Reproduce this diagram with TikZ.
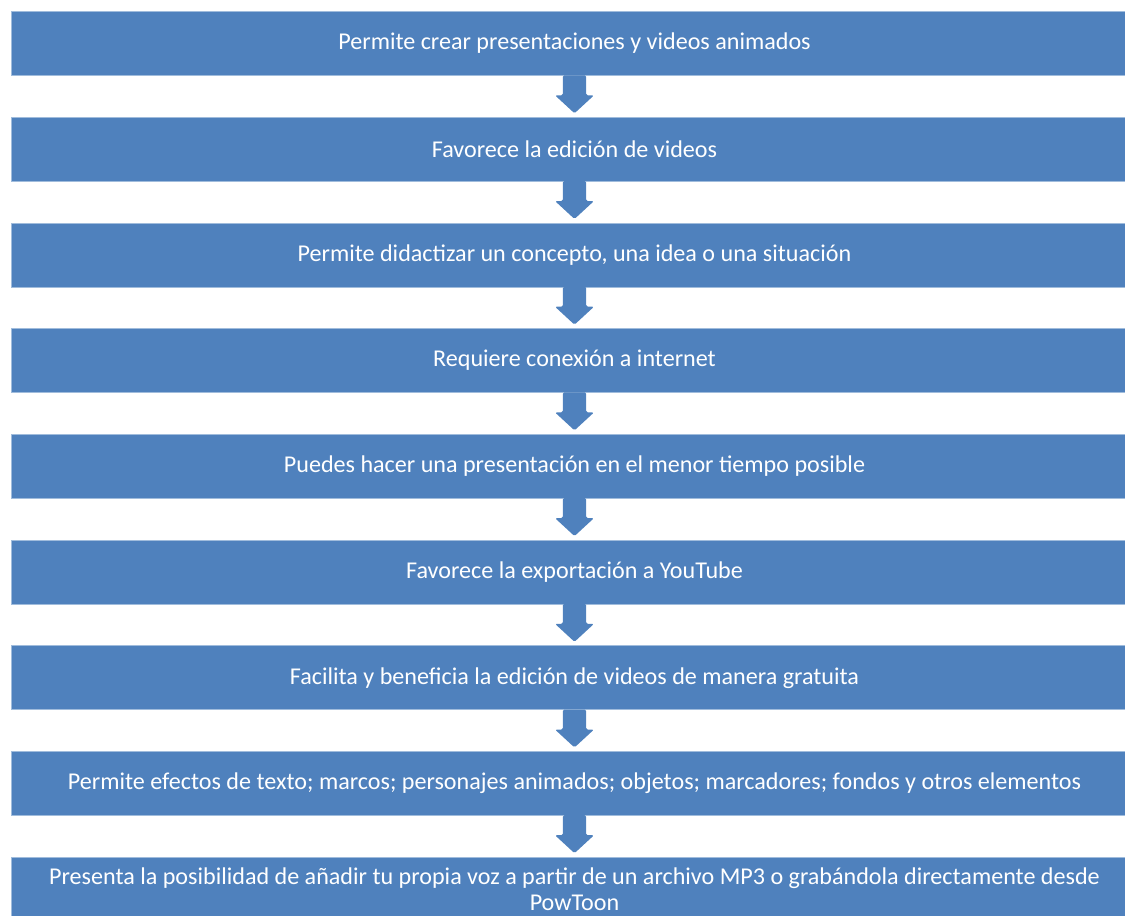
\documentclass[tikz,border=0pt]{standalone}
\usepackage{fontspec}
\setmainfont{Carlito}
\usetikzlibrary{calc}
\definecolor{boxblue}{RGB}{79,129,189}
\definecolor{edgeblue}{RGB}{160,188,220}
\tikzset{
  stepbox/.style={fill=boxblue, draw=edgeblue, line width=0.6pt, minimum width=1127pt, minimum height=64pt,
    inner sep=0pt, text=white, font=\fontsize{24.1}{25.5}\selectfont, align=center},
  downarrow/.style={fill=boxblue, draw=none, rounded corners=1.5pt}
}
\newcommand{\downarr}[1]{%
  \fill[downarrow] ($(#1.south)+(-11.7pt,0.5pt)$) -- ($(#1.south)+(-11.7pt,-19.5pt)$) -- ($(#1.south)+(-19.5pt,-19.5pt)$)
   -- ($(#1.south)+(0,-37.5pt)$) -- ($(#1.south)+(19.5pt,-19.5pt)$) -- ($(#1.south)+(11.7pt,-19.5pt)$)
   -- ($(#1.south)+(11.7pt,0.5pt)$) -- cycle;}
\begin{document}
\begin{tikzpicture}[x=1pt,y=-1pt]
\useasboundingbox (0,0) rectangle (1125,916);
\clip (0,0) rectangle (1125,916);
\node[stepbox] (b1) at (574.5,43.5) {Permite crear presentaciones y videos animados};
\node[stepbox] (b2) at (574.5,149.2) {Favorece la edición de videos};
\node[stepbox] (b3) at (574.5,254.9) {Permite didactizar un concepto, una idea o una situación};
\node[stepbox] (b4) at (574.5,360.6) {Requiere conexión a internet};
\node[stepbox] (b5) at (574.5,466.3) {Puedes hacer una presentación en el menor tiempo posible};
\node[stepbox] (b6) at (574.5,572.0) {Favorece la exportación a YouTube};
\node[stepbox] (b7) at (574.5,677.7) {Facilita y beneficia la edición de videos de manera gratuita};
\node[stepbox] (b8) at (574.5,783.4) {Permite efectos de texto; marcos; personajes animados; objetos; marcadores; fondos y otros elementos};
\node[stepbox] (b9) at (574.5,889.1) {Presenta la posibilidad de añadir tu propia voz a partir de un archivo MP3 o grabándola directamente desde\\PowToon};
\downarr{b1}
\downarr{b2}
\downarr{b3}
\downarr{b4}
\downarr{b5}
\downarr{b6}
\downarr{b7}
\downarr{b8}
\end{tikzpicture}
\end{document}
